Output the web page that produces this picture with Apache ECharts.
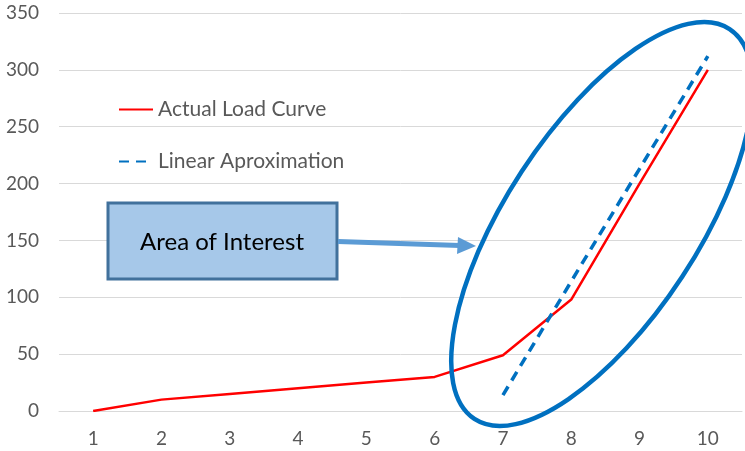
<!DOCTYPE html>
<html>
<head>
<meta charset="utf-8">
<script src="https://cdn.jsdelivr.net/npm/echarts@6/dist/echarts.min.js"></script>
<style>
  html, body { margin: 0; padding: 0; background: #fff; }
  #chart { width: 745px; height: 451px; }
</style>
</head>
<body>
<div id="chart"></div>
<script>
// Load points per step
const categories = ['1', '2', '3', '4', '5', '6', '7', '8', '9', '10'];
const actualLoad = [0, 10, 15, 20, 25, 30, 49, 98, 200, 300];
const linearApprox = [null, null, null, null, null, null, 14, 114, 213, 312];
const yTicks = { min: 0, max: 350, interval: 50 };

const FONT = 'Lato, "Open Sans", sans-serif';
const GREY = '#595959';

const chart = echarts.init(document.getElementById('chart'), null, { renderer: 'canvas' });

chart.setOption({
  animation: false,
  backgroundColor: '#ffffff',
  grid: { left: 59, right: 3, top: 13, bottom: 40, containLabel: false },
  legend: {
    orient: 'vertical',
    left: 113,
    top: 94,
    itemWidth: 34,
    itemHeight: 14,
    itemGap: 31,
    itemStyle: { opacity: 0 },
    textStyle: { color: GREY, fontFamily: FONT, fontSize: 21, padding: [0, 0, 0, 0] },
    data: ['Actual Load Curve', 'Linear Aproximation']
  },
  xAxis: {
    type: 'category',
    data: categories,
    boundaryGap: true,
    axisLine: { show: true, lineStyle: { color: '#d9d9d9', width: 1 } },
    axisTick: { show: false },
    axisLabel: { color: GREY, fontFamily: FONT, fontSize: 19, margin: 18 },
    splitLine: { show: false }
  },
  yAxis: {
    type: 'value',
    min: yTicks.min,
    max: yTicks.max,
    interval: yTicks.interval,
    axisLine: { show: false },
    axisTick: { show: false },
    axisLabel: { color: GREY, fontFamily: FONT, fontSize: 19, margin: 20 },
    splitLine: { show: true, lineStyle: { color: '#d9d9d9', width: 1 } }
  },
  series: [
    {
      name: 'Actual Load Curve',
      type: 'line',
      data: actualLoad,
      symbol: 'none',
      lineStyle: { color: '#ff0000', width: 2.5 },
      itemStyle: { color: '#ff0000' },
      z: 3
    },
    {
      name: 'Linear Aproximation',
      type: 'line',
      data: linearApprox,
      symbol: 'none',
      lineStyle: { color: '#0070c0', width: 3.5, type: [10, 7] },
      itemStyle: { color: '#0070c0' },
      z: 4
    }
  ],
  graphic: [
    // Ellipse circling the steep part of the curve
    {
      type: 'ellipse',
      x: 602,
      y: 224,
      rotation: 56.8 * Math.PI / 180,
      shape: { cx: 0, cy: 0, rx: 233, ry: 96 },
      style: { fill: 'none', stroke: '#0070c0', lineWidth: 4.5 },
      z: 10
    },
    // Callout box
    {
      type: 'rect',
      shape: { x: 108, y: 203, width: 229, height: 76 },
      style: { fill: '#a6c8e9', stroke: '#41719c', lineWidth: 3 },
      z: 10
    },
    {
      type: 'text',
      x: 222,
      y: 242,
      style: {
        text: 'Area of Interest',
        fill: '#000000',
        font: '24px ' + FONT,
        align: 'center',
        verticalAlign: 'middle'
      },
      z: 11
    },
    // Arrow from the box to the ellipse
    {
      type: 'line',
      shape: { x1: 338, y1: 241.5, x2: 460, y2: 245.5 },
      style: { stroke: '#5b9bd5', lineWidth: 5 },
      z: 10
    },
    {
      type: 'polygon',
      shape: { points: [[458, 237], [476, 246], [457, 254]] },
      style: { fill: '#5b9bd5' },
      z: 10
    }
  ]
});
</script>
</body>
</html>
